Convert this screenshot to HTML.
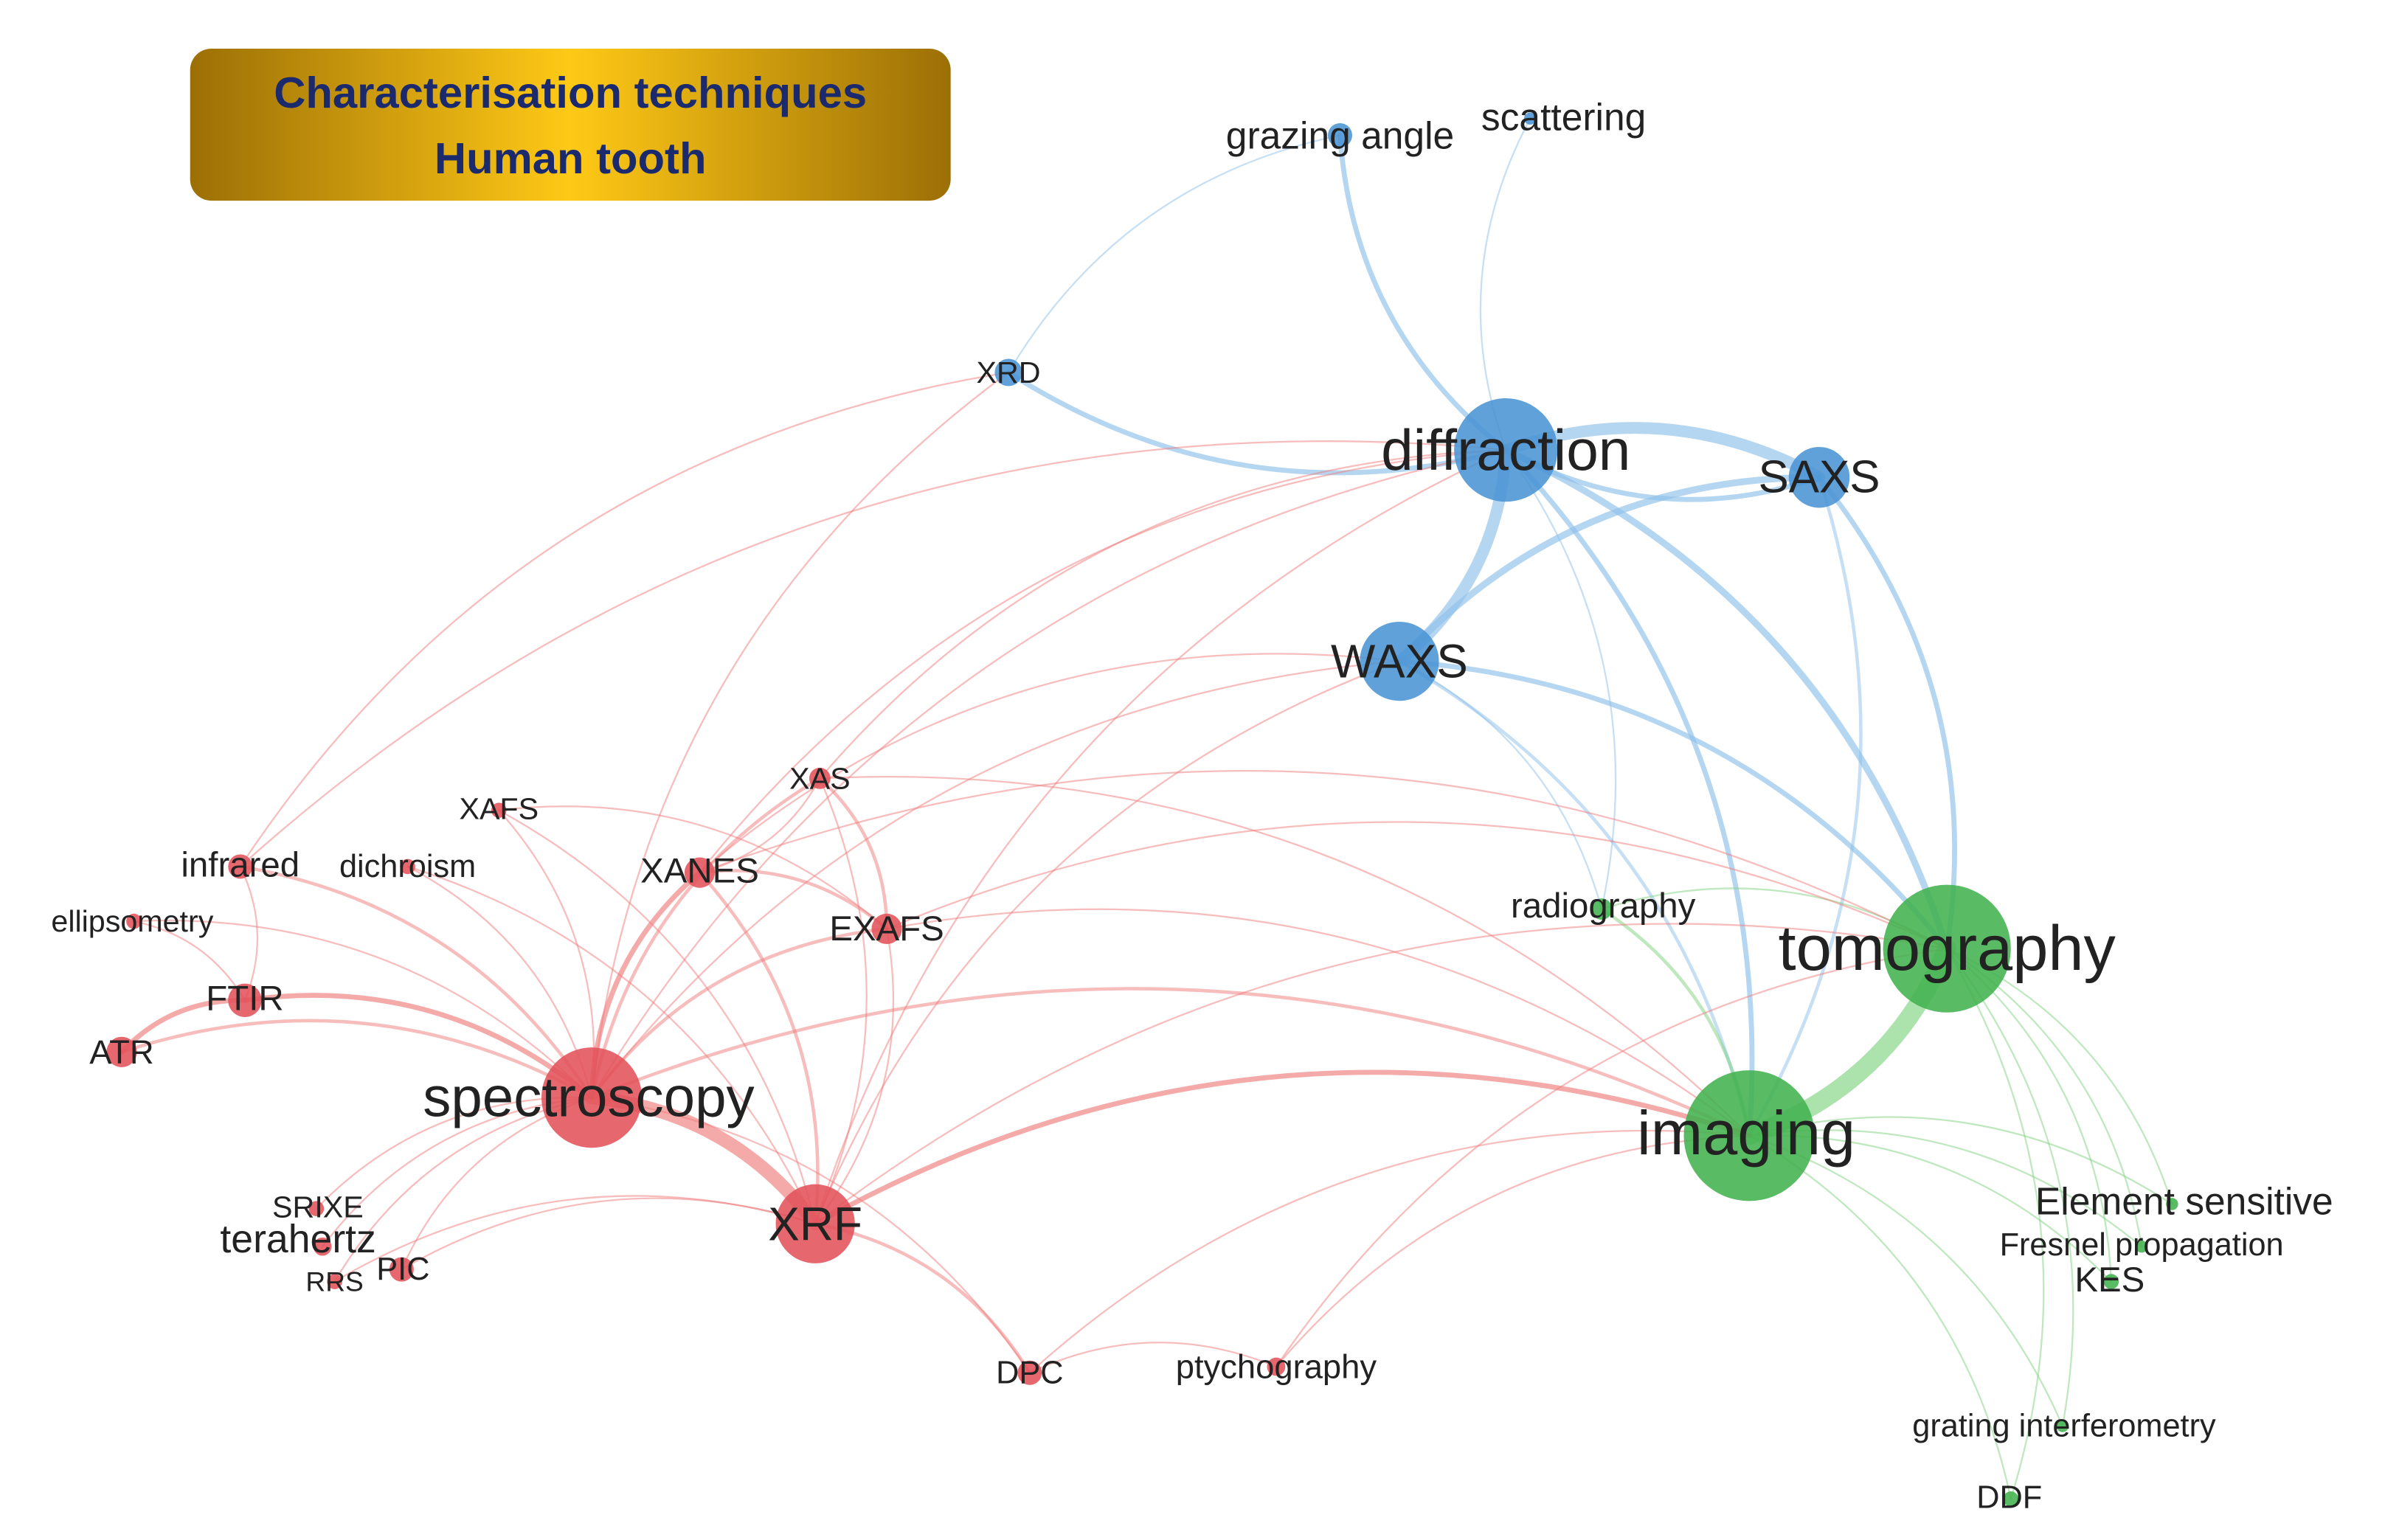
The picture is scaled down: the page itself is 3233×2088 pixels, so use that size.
<!DOCTYPE html>
<html><head><meta charset="utf-8"><style>
html,body{margin:0;padding:0;background:#fff;}
svg{display:block;}
text{font-family:"Liberation Sans",sans-serif;fill:#222;text-anchor:middle;dominant-baseline:central;}
</style></head><body>
<svg id="s" width="3233" height="2088" viewBox="0 0 1568 1013" preserveAspectRatio="none" xmlns="http://www.w3.org/2000/svg">
<defs>
<linearGradient id="gold" x1="0" x2="1" y1="0" y2="0">
<stop offset="0" stop-color="#9c6f06"/><stop offset="0.5" stop-color="#ffc916"/><stop offset="1" stop-color="#9c6f06"/>
</linearGradient>
</defs>
<rect x="125" y="32" width="500" height="100" rx="14" fill="url(#gold)"/>
<text x="375" y="61" style="font-size:29px;font-weight:bold;fill:#1a2a6c">Characterisation techniques</text>
<text x="375" y="104" style="font-size:29px;font-weight:bold;fill:#1a2a6c">Human tooth</text>
<g id="edges" fill="none" stroke-linecap="round"></g>
<g id="nodes"></g>
<g id="labels">
<text x="990" y="296" style="font-size:38px">diffraction</text>
<text x="1196" y="314" style="font-size:30px">SAXS</text>
<text x="920" y="435" style="font-size:31px">WAXS</text>
<text x="663" y="245" style="font-size:20px">XRD</text>
<text x="881" y="89" style="font-size:25px">grazing angle</text>
<text x="1028" y="77" style="font-size:25px">scattering</text>
<text x="1280" y="624" style="font-size:42px">tomography</text>
<text x="1148" y="745" style="font-size:41px">imaging</text>
<text x="1054" y="596" style="font-size:23px">radiography</text>
<text x="1436" y="790" style="font-size:25px">Element sensitive</text>
<text x="1408" y="819" style="font-size:21px">Fresnel propagation</text>
<text x="1387" y="842" style="font-size:23px">KES</text>
<text x="1357" y="938" style="font-size:21px">grating interferometry</text>
<text x="1321" y="985" style="font-size:21px">DDF</text>
<text x="387" y="722" style="font-size:37px">spectroscopy</text>
<text x="536" y="805" style="font-size:31px">XRF</text>
<text x="460" y="573" style="font-size:23px">XANES</text>
<text x="539" y="512" style="font-size:20px">XAS</text>
<text x="583" y="611" style="font-size:23px">EXAFS</text>
<text x="328" y="532" style="font-size:20px">XAFS</text>
<text x="158" y="569" style="font-size:23px">infrared</text>
<text x="268" y="570" style="font-size:21px">dichroism</text>
<text x="87" y="606" style="font-size:20px">ellipsometry</text>
<text x="161" y="657" style="font-size:23px">FTIR</text>
<text x="80" y="692" style="font-size:22px">ATR</text>
<text x="209" y="794" style="font-size:20px">SRIXE</text>
<text x="196" y="815" style="font-size:26px">terahertz</text>
<text x="220" y="843" style="font-size:18px">RRS</text>
<text x="265" y="835" style="font-size:21px">PIC</text>
<text x="677" y="903" style="font-size:21px">DPC</text>
<text x="839" y="899" style="font-size:22px">ptychography</text>
</g>
</svg>
<script>
var N={diffraction:[990,296,34,'b'],SAXS:[1196,314,20,'b'],WAXS:[920,435,26,'b'],XRD:[663,245,9,'b'],grazing:[881,89,8,'b'],scattering:[1006,78,4,'b'],
tomography:[1280,624,42,'g'],imaging:[1150,747,43,'g'],radiography:[1053,598,7,'g'],Element:[1428,792,4,'g'],Fresnel:[1408,820,4,'g'],KES:[1388,843,5,'g'],grating:[1356,938,4,'g'],DDF:[1322,986,5,'g'],
spectroscopy:[389,722,33,'r'],XRF:[536,805,26,'r'],XANES:[460,574,10,'r'],XAS:[539,512,7,'r'],EXAFS:[583,611,10,'r'],XAFS:[328,533,5,'r'],infrared:[158,570,8,'r'],dichroism:[268,570,5,'r'],ellipsometry:[88,606,5,'r'],FTIR:[161,658,11,'r'],ATR:[80,692,10,'r'],SRIXE:[208,795,5,'r'],terahertz:[212,820,6,'r'],RRS:[220,843,5,'r'],PIC:[264,835,8,'r'],DPC:[677,903,8,'r'],ptychography:[839,899,6,'r']};
var C={b:'#8ec0ea',g:'#7fd27f',r:'#f07c7c'},F={b:'#4a94d4',g:'#42b24e',r:'#e2525a'};
var E=[['diffraction','SAXS',7],['diffraction','WAXS',7],['WAXS','SAXS',4],['diffraction','XRD',3],['diffraction','grazing',3],['diffraction','scattering',1],['XRD','grazing',1],['SAXS','tomography',3],['SAXS','imaging',2],['diffraction','tomography',4],['diffraction','imaging',3],['WAXS','tomography',3],['WAXS','imaging',2],['diffraction','radiography',1],['WAXS','radiography',1],['SAXS','diffraction',3],
['tomography','imaging',11],['radiography','imaging',2],['radiography','tomography',1],['tomography','Element',1],['imaging','Element',1],['imaging','Fresnel',1],['tomography','Fresnel',1],['imaging','KES',1],['tomography','KES',1],['imaging','grating',1],['tomography','grating',1],['imaging','DDF',1],['tomography','DDF',1],['ptychography','imaging',1],['DPC','imaging',1],
['spectroscopy','XRF',8],['FTIR','spectroscopy',3],['infrared','spectroscopy',2],['ATR','FTIR',3],['ATR','spectroscopy',2],['infrared','FTIR',1],['spectroscopy','XANES',3],['spectroscopy','XAS',2],['spectroscopy','EXAFS',2],['XANES','EXAFS',2],['XAS','EXAFS',2],['XAS','XANES',1],['XAFS','EXAFS',1],['XAFS','spectroscopy',1],['terahertz','spectroscopy',1],['PIC','spectroscopy',1],['SRIXE','spectroscopy',1],['RRS','spectroscopy',1],['XRF','DPC',2],['spectroscopy','DPC',1],['XRF','imaging',3],['spectroscopy','imaging',2],['XRF','tomography',1],['XANES','XRF',2],['XAS','XRF',1],['EXAFS','XRF',1],['DPC','ptychography',1],['dichroism','spectroscopy',1],['dichroism','XRF',1],['infrared','XRD',1],['infrared','diffraction',1],['ellipsometry','spectroscopy',1],['XANES','diffraction',1],['XAS','diffraction',1],['XRF','diffraction',1],['spectroscopy','diffraction',1],['spectroscopy','XRD',1],['XRF','WAXS',1],['EXAFS','tomography',1],['XANES','WAXS',1],['XANES','tomography',1],['EXAFS','imaging',1],['XAS','imaging',1],['PIC','XRF',1],['RRS','XRF',1],['spectroscopy','WAXS',1],['ptychography','tomography',1],['XAFS','XRF',1],['ellipsometry','FTIR',1]];
var ns='http://www.w3.org/2000/svg',eg=document.getElementById('edges'),ng=document.getElementById('nodes');
E.forEach(function(e){var a=N[e[0]],b=N[e[1]];var dx=b[0]-a[0],dy=b[1]-a[1];var mx=(a[0]+b[0])/2+0.22*dy,my=(a[1]+b[1])/2-0.22*dx;
var p=document.createElementNS(ns,'path');p.setAttribute('d','M'+a[0]+','+a[1]+' Q'+mx+','+my+' '+b[0]+','+b[1]);
p.setAttribute('stroke',C[a[3]]);p.setAttribute('stroke-width',e[2]*1.1);p.setAttribute('stroke-opacity',e[2]>2?0.65:0.5);eg.appendChild(p);});
for(var k in N){var n=N[k];var c=document.createElementNS(ns,'circle');c.setAttribute('cx',n[0]);c.setAttribute('cy',n[1]);c.setAttribute('r',n[2]);c.setAttribute('fill',F[n[3]]);c.setAttribute('fill-opacity',0.88);ng.appendChild(c);}
</script>
</body></html>
